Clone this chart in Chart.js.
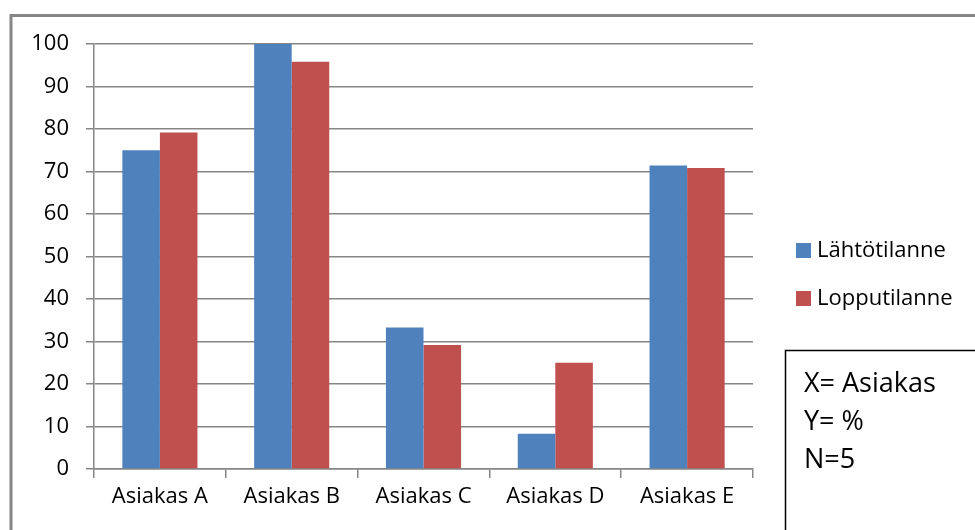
<!DOCTYPE html>
<html>
<head>
<meta charset="utf-8">
<script src="https://cdn.jsdelivr.net/npm/chart.js@4.4.0/dist/chart.umd.min.js"></script>
<style>
  html, body { margin: 0; padding: 0; background: #fff; }
  #c { display: block; }
</style>
</head>
<body>
<canvas id="c" width="975" height="530"></canvas>
<script>
// ── Data ─────────────────────────────────────────────────────────────
const categories = ['Asiakas A', 'Asiakas B', 'Asiakas C', 'Asiakas D', 'Asiakas E'];
const lahtoValues = [75, 100, 33.3, 8.3, 71.4];
const loppuValues = [79.2, 95.8, 29.2, 25, 70.8];
const seriesLabels = ['Lähtötilanne', 'Lopputilanne'];
const noteLines = ['X= Asiakas', 'Y= %', 'N=5'];

const FONT = '"Open Sans", Lato, sans-serif';
const GRID = '#868686';

// Border, legend and the note box are drawn after the chart
const decor = {
  id: 'decor',
  afterDraw(chart) {
    const ctx = chart.ctx;
    ctx.save();
    // outer frame
    ctx.strokeStyle = GRID;
    ctx.lineWidth = 3;
    ctx.strokeRect(11, 15.5, 1000, 600);

    // legend
    ctx.font = '22px ' + FONT;
    ctx.textBaseline = 'middle';
    chart.data.datasets.forEach((ds, i) => {
      const cy = 251 + i * 48;
      ctx.fillStyle = ds.backgroundColor;
      ctx.fillRect(796, cy - 8, 15, 15);
      ctx.fillStyle = '#000';
      ctx.fillText(ds.label, 817, cy);
    });

    // note box
    ctx.strokeStyle = '#000';
    ctx.lineWidth = 1.5;
    ctx.strokeRect(785.5, 350.5, 300, 300);
    ctx.font = '27px ' + FONT;
    ctx.textBaseline = 'alphabetic';
    ctx.fillStyle = '#000';
    noteLines.forEach((t, i) => ctx.fillText(t, 804, 392 + i * 38));
    ctx.restore();
  }
};

new Chart(document.getElementById('c'), {
  type: 'bar',
  data: {
    labels: categories,
    datasets: [
      { label: seriesLabels[0], data: lahtoValues, backgroundColor: '#4F81BD' },
      { label: seriesLabels[1], data: loppuValues, backgroundColor: '#C0504D' },
    ]
  },
  options: {
    responsive: false,
    animation: false,
    devicePixelRatio: 1,
    layout: { padding: { left: 0, top: 44, right: 222, bottom: 0 } },
    datasets: { bar: { categoryPercentage: 0.57, barPercentage: 1 } },
    plugins: { legend: { display: false }, tooltip: { enabled: false } },
    scales: {
      x: {
        grid: { drawOnChartArea: false, drawTicks: true, tickLength: 9, color: GRID, lineWidth: 1.5, offset: true },
        border: { color: GRID, width: 1.5 },
        ticks: { color: '#000', font: { family: FONT, size: 22 }, padding: 6, maxRotation: 0 },
        afterFit: s => { s.height = 61; }
      },
      y: {
        min: 0, max: 100,
        grid: { color: GRID, lineWidth: 1.5, tickLength: 8 },
        border: { color: GRID, width: 1.5 },
        ticks: { stepSize: 10, color: '#000', font: { family: FONT, size: 22 }, padding: 17 },
        afterFit: s => { s.width = 94; }
      }
    }
  },
  plugins: [decor]
});
</script>
</body>
</html>
